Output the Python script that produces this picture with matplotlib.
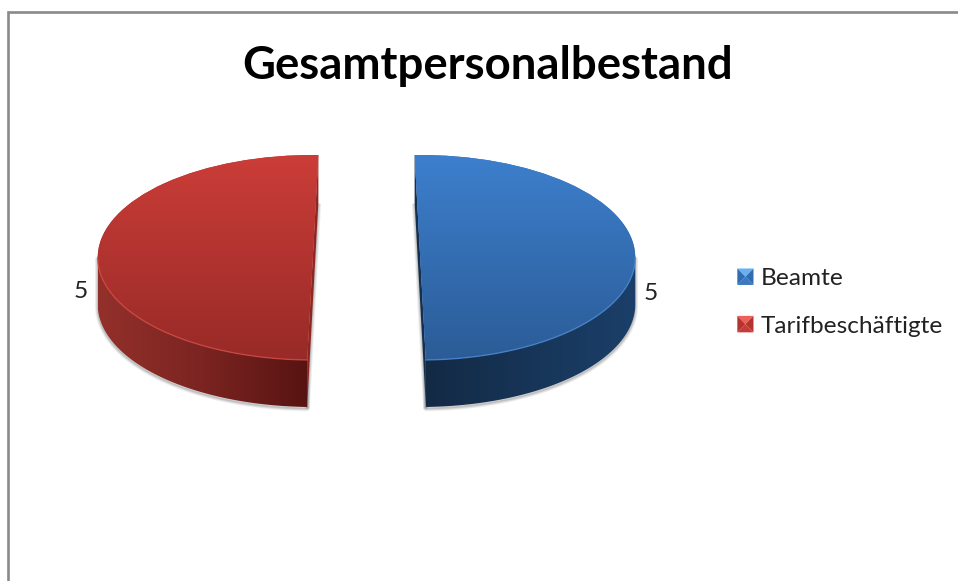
import numpy as np
import matplotlib
matplotlib.use('Agg')
import matplotlib.pyplot as plt
from matplotlib.colors import LinearSegmentedColormap
from matplotlib.lines import Line2D
from matplotlib.patches import Patch, Polygon
from matplotlib.legend_handler import HandlerBase

# Data
categories = ['Beamte', 'Tarifbeschäftigte']
values = [5, 5]
title = 'Gesamtpersonalbestand'

W, H = 958, 581
RX, RY = 215.0, 102.5      # pixels per unit of the flattened pie
CX, CY = 366.5, 257.5      # pixel position of the pie centre
DEPTH = 47 / RY

plt.rcParams['font.family'] = ['Lato', 'DejaVu Sans']
fig = plt.figure(figsize=(W / 100, H / 100), dpi=100)
ax = fig.add_axes([0, 0, 1, 1])

wedges, _ = ax.pie(values, startangle=90, counterclock=False,
                   explode=[0.25, 0.25], colors=['#376fb5', '#b0322e'])
# the perspective of the original tips the cut edges a little
wedges[0].set_theta1(-88.5)
wedges[0].set_theta2(91.5)
wedges[1].set_theta1(88.5)
wedges[1].set_theta2(268.5)


def arc(wedge, t0, t1):
    t = np.radians(np.linspace(t0, t1, 160))
    return wedge.center[0] + wedge.r * np.cos(t), wedge.center[1] + wedge.r * np.sin(t)


def gradient(patch, colors, box, vertical, zorder):
    g = np.linspace(0, 1, 256)
    g = g.reshape(-1, 1) if vertical else g.reshape(1, -1)
    im = ax.imshow(g, cmap=LinearSegmentedColormap.from_list('g', colors), extent=box,
                   aspect='auto', zorder=zorder, interpolation='bilinear')
    im.set_clip_path(patch)


def slab(wedge, t0, t1, side_colors, cut_color, top_colors, rim):
    x, y = arc(wedge, t0, t1)
    side_xy = np.r_[np.c_[x, y], np.c_[x[::-1], y[::-1] - DEPTH]]
    ex0, ey0 = arc(wedge, wedge.theta1, wedge.theta1)
    ex1, ey1 = arc(wedge, wedge.theta2, wedge.theta2)
    cut_xy = [(ex0[0], ey0[0]), (ex1[0], ey1[0]),
              (ex1[0], ey1[0] - DEPTH), (ex0[0], ey0[0] - DEPTH)]
    # shadow of the cut only shows along its lower edge
    cut_edge = np.array(cut_xy[2:])

    # soft shadow round the wall
    shift = np.array([0, -1.5 / RY])
    for lw, a in [(4.0, 0.10), (2.6, 0.14), (1.2, 0.2)]:
        for xy in (side_xy, cut_edge):
            ax.add_patch(Polygon(xy + shift, closed=True, fc='none', ec='#606060',
                                 lw=lw, alpha=a, zorder=1, joinstyle='round'))

    ax.add_patch(Polygon(cut_xy, closed=True, fc=cut_color, ec='none', zorder=2))

    side = Polygon(side_xy, closed=True, fc='none', ec='none', zorder=2.5)
    ax.add_patch(side)
    gradient(side, side_colors, (x.min(), x.max(), -1.6, 0.2), False, 3)

    wedge.set_zorder(4)
    cx, cy = wedge.center
    gradient(wedge, top_colors, (cx - 1.1, cx + 1.1, -1, 1), True, 5)
    ax.plot(x, y, color=rim, lw=1.0, zorder=6, alpha=0.8)


slab(wedges[0], -88.5, 0, ['#132a45', '#173558', '#1b3f69'], '#15304f',
     ['#3d7fcd', '#2b5c97'], '#4a88d0')
slab(wedges[1], 180, 268.5, ['#93302b', '#7b2421', '#571412'], '#8e2622',
     ['#cb3d38', '#982a27'], '#d24a45')

ax.set_aspect('auto')
ax.set_xlim((0 - CX) / RX, (W - CX) / RX)
ax.set_ylim((CY - H) / RY, CY / RY)
ax.set_axis_off()


def px(x, y):
    return x / W, 1 - y / H


fig.text(*px(488, 66), title, fontsize=32.8, fontweight='bold', color='black',
         ha='center', va='center')
fig.text(*px(81, 292), str(values[1]), fontsize=17.6, color='#222222', ha='center', va='center')
fig.text(*px(651, 293), str(values[0]), fontsize=17.6, color='#222222', ha='center', va='center')

# chart frame, only top and left are inside the crop
fig.add_artist(Line2D([8 / W, 8 / W, 1], [0, 1 - 12 / H, 1 - 12 / H],
                      color='#8a8a8a', lw=1.9, solid_joinstyle='miter'))


class PyramidKey(HandlerBase):
    # legend key drawn as the small bevelled square of the original
    def __init__(self, shades):
        super().__init__()
        self.shades = shades

    def create_artists(self, legend, orig, xd, yd, width, height, fontsize, trans):
        x0, y0 = -xd, -yd
        x1, y1 = x0 + width, y0 + height
        m = (x0 + width / 2, y0 + height / 2)
        tris = [[(x0, y1), (x1, y1), m], [(x1, y1), (x1, y0), m],
                [(x1, y0), (x0, y0), m], [(x0, y0), (x0, y1), m]]
        return [Polygon(t, closed=True, fc=c, ec='none', transform=trans)
                for t, c in zip(tris, self.shades)]


handles = [Patch(color='#376fb5'), Patch(color='#b0322e')]
key_maps = {handles[0]: PyramidKey(['#69b0ee', '#2f6cb0', '#3b78c0', '#2f6cb0']),
            handles[1]: PyramidKey(['#f0605a', '#b5332f', '#c43c38', '#b5332f'])}
fig.legend(handles, categories, handler_map=key_maps, loc='center left',
           bbox_to_anchor=(730 / W, 1 - 302.5 / H), frameon=False, fontsize=17.6,
           handlelength=0.66, handleheight=0.66, handletextpad=0.3, labelspacing=1.08,
           labelcolor='#222222', borderpad=0.3, borderaxespad=0)

fig.savefig('out.png', dpi=100)
